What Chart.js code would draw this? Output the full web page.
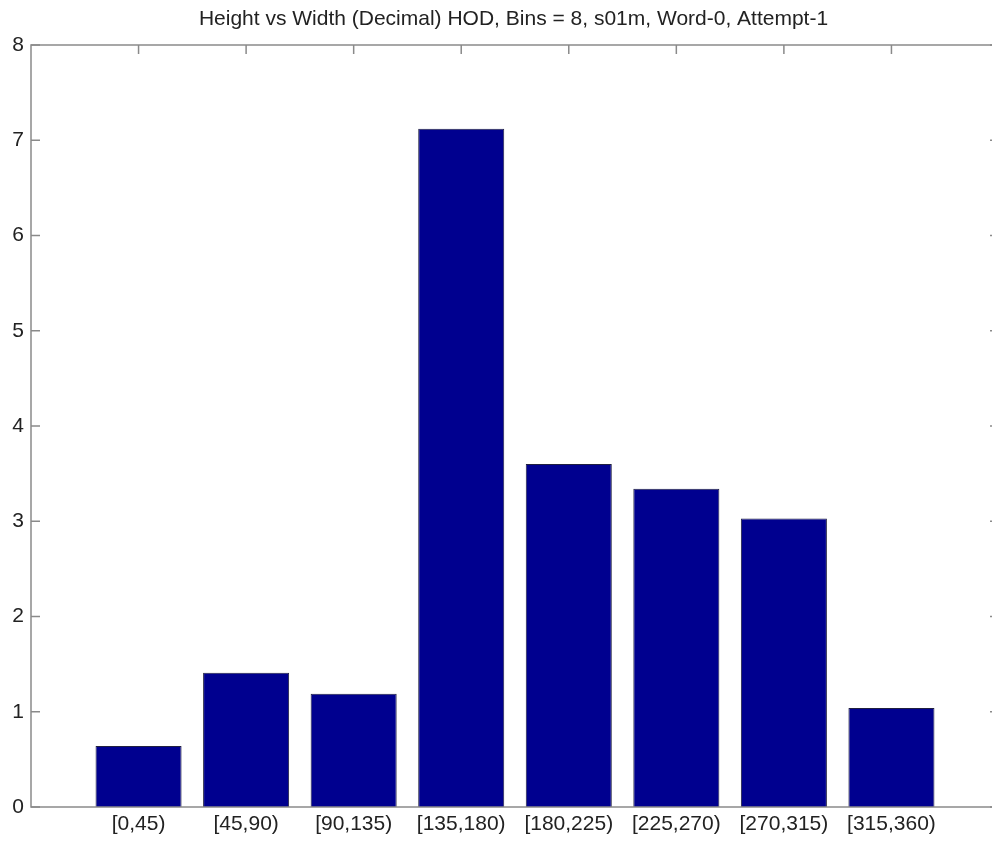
<!DOCTYPE html>
<html><head><meta charset="utf-8">
<script src="https://cdn.jsdelivr.net/npm/chart.js@4"></script>
<style>
html,body{margin:0;padding:0;background:#fff;overflow:hidden;width:992px;height:846px}
#wrap{position:absolute;left:0;top:0;width:1027px;height:846px}
</style></head>
<body><div id="wrap"><canvas id="c" width="1027" height="846"></canvas></div>
<script>
const categories = ['[0,45)','[45,90)','[90,135)','[135,180)','[180,225)','[225,270)','[270,315)','[315,360)'];
const values = [0.64, 1.41, 1.19, 7.12, 3.60, 3.34, 3.03, 1.04];
const yTicks = [0, 1, 2, 3, 4, 5, 6, 7, 8];
const titleText = 'Height vs Width (Decimal) HOD, Bins = 8, s01m, Word-0, Attempt-1';

const labels = ['', ...categories, ''];
const data = [null, ...values, null];

const FONT = "'Liberation Sans', Arial, sans-serif";
const AXIS_COLOR = '#8a8a8a';

const boxTicks = {
  id: 'boxTicks',
  beforeDatasetsDraw(chart) {
    const ctx = chart.ctx, a = chart.chartArea;
    const xs = chart.scales.x, ys = chart.scales.y;
    ctx.save();
    ctx.strokeStyle = AXIS_COLOR;
    ctx.lineWidth = 1.5;
    ctx.beginPath();
    yTicks.forEach(v => {
      const py = ys.getPixelForValue(v);
      ctx.moveTo(a.left, py); ctx.lineTo(a.left + 9, py);
      ctx.moveTo(a.right, py); ctx.lineTo(a.right - 9, py);
    });
    categories.forEach((c, i) => {
      const px = xs.getPixelForValue(i + 1);
      ctx.moveTo(px, a.top); ctx.lineTo(px, a.top + 9);
      ctx.moveTo(px, a.bottom); ctx.lineTo(px, a.bottom - 9);
    });
    ctx.stroke();
    ctx.restore();
  },
  afterDatasetsDraw(chart) {
    const ctx = chart.ctx, a = chart.chartArea;
    ctx.save();
    ctx.strokeStyle = AXIS_COLOR;
    ctx.lineWidth = 1.5;
    ctx.strokeRect(a.left, a.top, a.right - a.left, a.bottom - a.top);
    ctx.restore();
  }
};

new Chart(document.getElementById('c'), {
  type: 'bar',
  data: {
    labels: labels,
    datasets: [{
      data: data,
      backgroundColor: '#00008f',
      borderColor: '#202040',
      borderWidth: 1,
      categoryPercentage: 0.8,
      barPercentage: 1.0
    }]
  },
  options: {
    responsive: false,
    animation: false,
    devicePixelRatio: 1,
    layout: { padding: 0 },
    plugins: {
      legend: { display: false },
      tooltip: { enabled: false },
      title: {
        display: true,
        text: titleText,
        color: '#222',
        font: { family: FONT, size: 21, weight: 'normal' },
        padding: { top: 7, bottom: 12.8 }
      }
    },
    scales: {
      x: {
        type: 'category',
        offset: false,
        grid: { display: false, drawTicks: false },
        border: { display: false },
        ticks: { color: '#222', font: { family: FONT, size: 21 }, padding: 5, autoSkip: false, maxRotation: 0, minRotation: 0 },
        afterFit(s) { s.height = 39; }
      },
      y: {
        min: 0, max: 8,
        grid: { display: false, drawTicks: false },
        border: { display: false },
        ticks: { stepSize: 1, color: '#222', font: { family: FONT, size: 21 }, padding: 7 },
        afterFit(s) { s.width = 31; }
      },
      y2: {
        position: 'right',
        display: true,
        min: 0, max: 8,
        grid: { display: false, drawTicks: false },
        border: { display: false },
        ticks: { display: false },
        afterFit(s) { s.width = 28; }
      }
    }
  },
  plugins: [boxTicks]
});
</script>
</body></html>
